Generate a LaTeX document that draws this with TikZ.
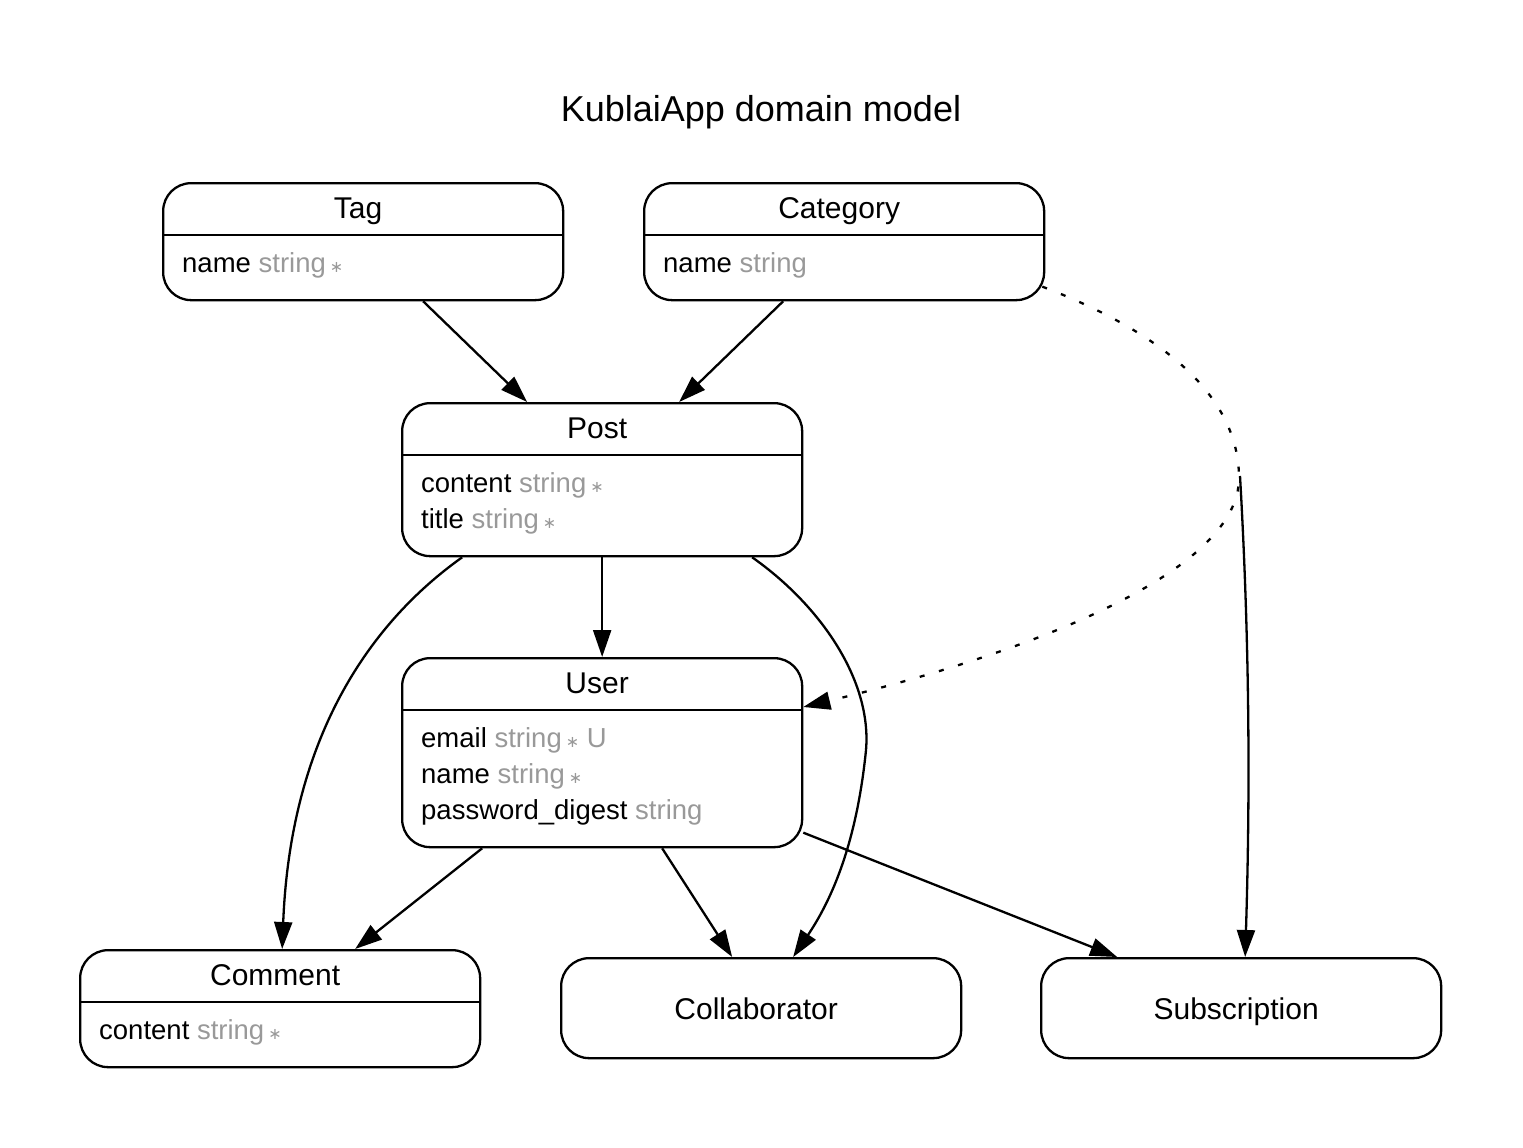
\documentclass[tikz,border=0pt]{standalone}
\usepackage{fontspec}
\setmainfont{Liberation Sans}
\newfontfamily\symfam{DejaVu Sans}
\usetikzlibrary{arrows.meta,calc}
\definecolor{attrgray}{RGB}{153,153,153}
\newcommand\tyname[1]{\textcolor{attrgray}{#1}}
\newcommand\reqmark{\hspace{4pt}{\color{attrgray}\symfam\fontsize{16}{16}\selectfont ∗}}
\tikzset{
  erbox/.style={draw, line width=2.3pt, rounded corners=28pt, minimum width=400pt, inner sep=0pt, anchor=north west},
  divider/.style={line width=2.3pt},
  hdr/.style={inner sep=0pt, anchor=base, font=\fontsize{30}{36}\selectfont},
  attr/.style={inner sep=0pt, anchor=base west, font=\fontsize{27.5}{33}\selectfont},
  rel/.style={line width=2.3pt, -{Triangle[length=27pt,width=18pt]}},
  dotrel/.style={rel, dash pattern=on 5pt off 15pt},
}
\begin{document}
\begin{tikzpicture}[x=1pt,y=-1pt]
\useasboundingbox (0,0) rectangle (1523,1148);
\node[inner sep=0pt, anchor=base, font=\fontsize{36}{42}\selectfont] (title) at (761,121) {KublaiApp domain model};

% boxes
\node[erbox, minimum height=117pt] (tag) at (162,182) {};
\node[erbox, minimum height=117pt] (cat) at (643,182) {};
\node[erbox, minimum height=153pt] (post) at (401,402) {};
\node[erbox, minimum height=189pt] (user) at (401,657) {};
\node[erbox, minimum height=117pt] (comment) at (79,949) {};
\node[erbox, minimum height=100pt] (collab) at (560,957) {};
\node[erbox, minimum height=100pt] (sub) at (1040,957) {};

% dividers
\foreach \b in {tag,cat,post,user,comment}
  \draw[divider] ([yshift=-53pt]\b.north west) -- ([yshift=-53pt]\b.north east);

% headers
\node[hdr] (tagh) at ([xshift=-5pt,yshift=-36pt]tag.north) {Tag};
\node[hdr] (cath) at ([xshift=-5pt,yshift=-36pt]cat.north) {Category};
\node[hdr] (posth) at ([xshift=-5pt,yshift=-36pt]post.north) {Post};
\node[hdr] (userh) at ([xshift=-5pt,yshift=-36pt]user.north) {User};
\node[hdr] (commenth) at ([xshift=-5pt,yshift=-36pt]comment.north) {Comment};
\node[hdr] (collabh) at ([xshift=-5pt,yshift=-11pt]collab.center) {Collaborator};
\node[hdr] (subh) at ([xshift=-5pt,yshift=-11pt]sub.center) {Subscription};

% attributes
\node[attr] (tag1) at ([xshift=20pt,yshift=-90pt]tag.north west) {name \tyname{string}\reqmark};
\node[attr] (cat1) at ([xshift=20pt,yshift=-90pt]cat.north west) {name \tyname{string}};
\node[attr] (post1) at ([xshift=20pt,yshift=-90pt]post.north west) {content \tyname{string}\reqmark};
\node[attr] (post2) at ([xshift=20pt,yshift=-126pt]post.north west) {title \tyname{string}\reqmark};
\node[attr] (user1) at ([xshift=20pt,yshift=-90pt]user.north west) {email \tyname{string}\reqmark\ \tyname{U}};
\node[attr] (user2) at ([xshift=20pt,yshift=-126pt]user.north west) {name \tyname{string}\reqmark};
\node[attr] (user3) at ([xshift=20pt,yshift=-162pt]user.north west) {password\_digest \tyname{string}};
\node[attr] (comment1) at ([xshift=20pt,yshift=-90pt]comment.north west) {content \tyname{string}\reqmark};

% connectors
\draw[rel] ([xshift=60pt]tag.south) -- ([xshift=-75pt]post.north);
\draw[rel] ([xshift=-61pt]cat.south) -- ([xshift=77pt]post.north);
\draw[rel] (post.south) -- (user.north);
\draw[rel] ([xshift=-140pt]post.south) .. controls (360,630) and (290,750) .. ([xshift=2pt]comment.north);
\draw[rel] ([xshift=150pt]post.south) .. controls (820,605) and (872,680) .. (866,750)
  .. controls (860,810) and (845,880) .. ([xshift=32pt]collab.north);
\draw[rel] ([xshift=-120pt]user.south) -- ([xshift=75pt]comment.north);
\draw[rel] ([xshift=60pt]user.south) -- ([xshift=-29pt]collab.north);
\draw[rel] ([yshift=-80pt]user.east) -- ([xshift=-124pt]sub.north);

\coordinate (bend) at (1239,478);
\coordinate (stub) at (1240,476);
\draw[dotrel] ([xshift=-3pt,yshift=-45pt]cat.east) .. controls (1130,320) and (1239,380) .. (bend)
  .. controls (1239,570) and (1040,650) .. ([yshift=-50pt]user.north east);
\draw[rel] (stub) .. controls (1250,650) and (1250,800) .. ([xshift=4pt]sub.north);
\end{tikzpicture}
\end{document}
